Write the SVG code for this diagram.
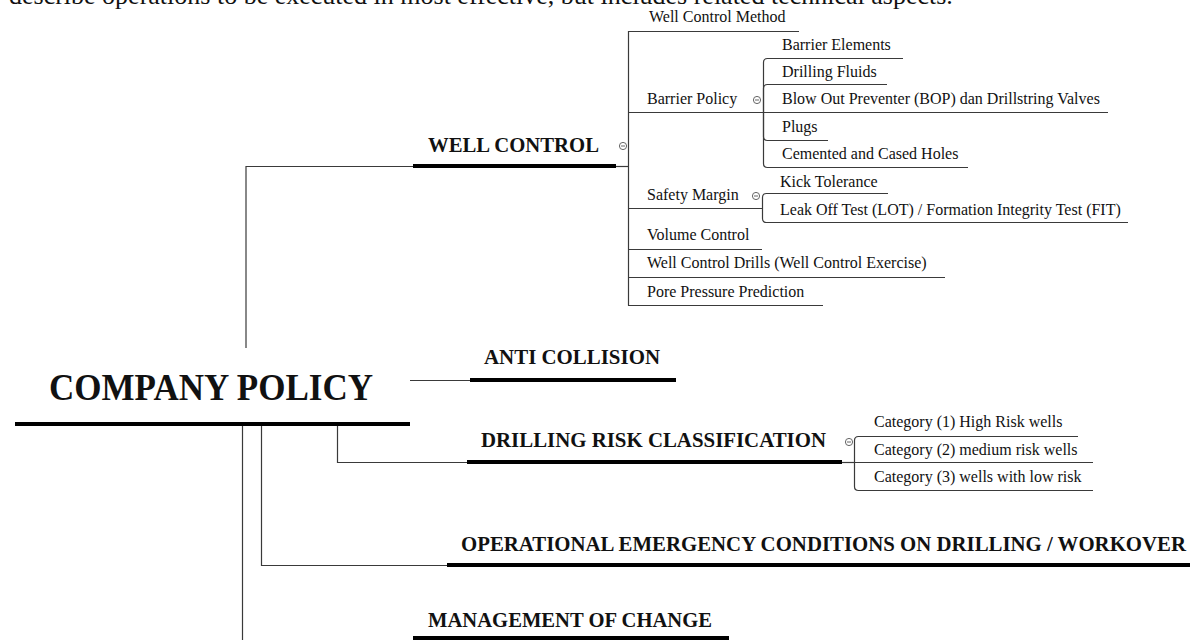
<svg xmlns="http://www.w3.org/2000/svg" width="1198" height="640" viewBox="0 0 1198 640">
  <style>
    text { font-family: "Liberation Serif", "Times New Roman", serif; fill: #111; }
    .para { font-size: 26px; }
    .root { font-size: 38px; font-weight: bold; }
    .main { font-size: 21px; font-weight: bold; }
    .sub { font-size: 16px; }
    .thin { fill: none; stroke: #3a3a3a; stroke-width: 1.2; }
    .bar { fill: none; stroke: #000; stroke-width: 4; }
    .toggle circle { fill: #fff; stroke: #666; stroke-width: 1; }
    .toggle line { stroke: #666; stroke-width: 1; }
  </style>
  <defs>
    <g id="collapse" class="toggle">
      <circle cx="0" cy="0" r="3.6"/>
      <line x1="-2" y1="0" x2="2" y2="0"/>
    </g>
  </defs>
  <rect width="1198" height="640" fill="#fff"/>

  <!-- running text above the map -->
  <text class="para" x="9" y="4">describe operations to be executed in most effective, but includes related technical aspects.</text>

  <!-- connectors -->
  <g id="connectors">
    <!-- root to main topics -->
    <path class="thin" d="M246,348 V166.5 H413"/>
    <path class="thin" d="M616,166.5 H628"/>
    <path class="thin" d="M410,380.5 H470"/>
    <path class="thin" d="M337.5,424 V462.5 H467"/>
    <path class="thin" d="M842,462.5 H854"/>
    <path class="thin" d="M261.5,424 V565.5 H447"/>
    <path class="thin" d="M242.5,424 V640"/>

    <!-- well control children -->
    <path class="thin" d="M628.5,31 V305.5"/>
    <path class="thin" d="M628,31.5 H799"/>
    <path class="thin" d="M628,112.5 H763"/>
    <path class="thin" d="M628,208.5 H762"/>
    <path class="thin" d="M628,249.5 H762"/>
    <path class="thin" d="M628,277.5 H945"/>
    <path class="thin" d="M628,305.5 H823"/>

    <!-- barrier policy children -->
    <path class="thin" d="M763.5,112 V62.5 Q763.5,58.5 767.5,58.5 H903"/>
    <path class="thin" d="M763.5,112 V88.5 Q763.5,84.5 767.5,84.5 H887"/>
    <path class="thin" d="M763,112.5 H1108"/>
    <path class="thin" d="M763.5,112 V136.5 Q763.5,140.5 767.5,140.5 H828"/>
    <path class="thin" d="M763.5,112 V163.5 Q763.5,167.5 767.5,167.5 H968"/>

    <!-- safety margin children -->
    <path class="thin" d="M762.5,208 V197.5 Q762.5,193.5 766.5,193.5 H888"/>
    <path class="thin" d="M762.5,208 V218.5 Q762.5,222.5 766.5,222.5 H1128"/>

    <!-- risk classification children -->
    <path class="thin" d="M854.5,462 V440.5 Q854.5,436.5 858.5,436.5 H1078"/>
    <path class="thin" d="M854,462.5 H1093"/>
    <path class="thin" d="M854.5,462 V486.5 Q854.5,490.5 858.5,490.5 H1093"/>
  </g>

  <!-- root topic -->
  <g id="company-policy">
    <text class="root" x="49" y="400" textLength="324" lengthAdjust="spacingAndGlyphs">COMPANY POLICY</text>
    <line class="bar" x1="15" y1="424" x2="410" y2="424" stroke-width="5"/>
  </g>

  <!-- main topics -->
  <g id="well-control">
    <text class="main" x="428" y="152" textLength="171" lengthAdjust="spacingAndGlyphs">WELL CONTROL</text>
    <line class="bar" x1="413" y1="166" x2="616" y2="166"/>
    <use href="#collapse" x="623" y="146"/>
  </g>
  <g id="anti-collision">
    <text class="main" x="484" y="364" textLength="176" lengthAdjust="spacingAndGlyphs">ANTI COLLISION</text>
    <line class="bar" x1="470" y1="380" x2="676" y2="380"/>
  </g>
  <g id="drilling-risk">
    <text class="main" x="481" y="447" textLength="345" lengthAdjust="spacingAndGlyphs">DRILLING RISK CLASSIFICATION</text>
    <line class="bar" x1="467" y1="462" x2="842" y2="462"/>
    <use href="#collapse" x="849" y="442"/>
  </g>
  <g id="operational-emergency">
    <text class="main" x="461" y="551" textLength="725" lengthAdjust="spacingAndGlyphs">OPERATIONAL EMERGENCY CONDITIONS ON DRILLING / WORKOVER</text>
    <line class="bar" x1="447" y1="565" x2="1190" y2="565"/>
  </g>
  <g id="management-of-change">
    <text class="main" x="428" y="627" textLength="284" lengthAdjust="spacingAndGlyphs">MANAGEMENT OF CHANGE</text>
    <line class="bar" x1="413" y1="638" x2="729" y2="638"/>
  </g>

  <!-- well control subtopics -->
  <g id="well-control-method"><text class="sub" x="649" y="22">Well Control Method</text></g>
  <g id="barrier-policy">
    <text class="sub" x="647" y="104">Barrier Policy</text>
    <use href="#collapse" x="757" y="100"/>
  </g>
  <g id="barrier-elements"><text class="sub" x="782" y="50">Barrier Elements</text></g>
  <g id="drilling-fluids"><text class="sub" x="782" y="77">Drilling Fluids</text></g>
  <g id="bop"><text class="sub" x="782" y="104">Blow Out Preventer (BOP) dan Drillstring Valves</text></g>
  <g id="plugs"><text class="sub" x="782" y="132">Plugs</text></g>
  <g id="cemented-holes"><text class="sub" x="782" y="159">Cemented and Cased Holes</text></g>
  <g id="safety-margin">
    <text class="sub" x="647" y="200">Safety Margin</text>
    <use href="#collapse" x="756" y="196"/>
  </g>
  <g id="kick-tolerance"><text class="sub" x="780" y="187">Kick Tolerance</text></g>
  <g id="lot-fit"><text class="sub" x="780" y="215">Leak Off Test (LOT) / Formation Integrity Test (FIT)</text></g>
  <g id="volume-control"><text class="sub" x="647" y="240">Volume Control</text></g>
  <g id="well-control-drills"><text class="sub" x="647" y="268">Well Control Drills (Well Control Exercise)</text></g>
  <g id="pore-pressure"><text class="sub" x="647" y="297">Pore Pressure Prediction</text></g>

  <!-- risk categories -->
  <g id="category-1"><text class="sub" x="874" y="427">Category (1) High Risk wells</text></g>
  <g id="category-2"><text class="sub" x="874" y="455">Category (2) medium risk wells</text></g>
  <g id="category-3"><text class="sub" x="874" y="482">Category (3) wells with low risk</text></g>
</svg>
